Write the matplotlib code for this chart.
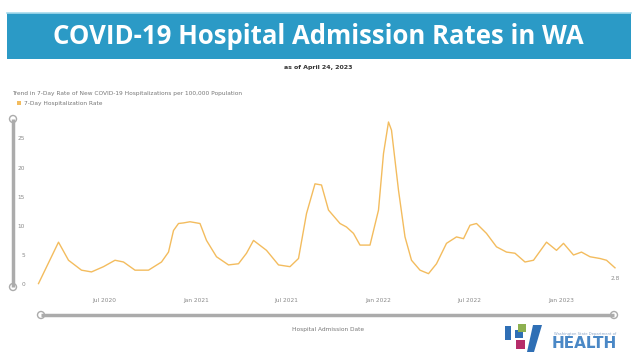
"""COVID-19 hospital admission rates in WA, dashboard-style chart."""
import matplotlib
matplotlib.use("Agg")
import matplotlib.pyplot as plt
import matplotlib.patches as patches
import pandas as pd

# 7-day hospitalization rate per 100k
dates = pd.to_datetime([
    "2020-02-21", "2020-04-01", "2020-04-21", "2020-05-17", "2020-06-06",
    "2020-06-30", "2020-07-23", "2020-08-09", "2020-09-01", "2020-09-28",
    "2020-10-24", "2020-11-07", "2020-11-17", "2020-11-27", "2020-12-07",
    "2020-12-20", "2021-01-09", "2021-01-22", "2021-02-11", "2021-03-07",
    "2021-03-27", "2021-04-12", "2021-04-26", "2021-05-22", "2021-06-15",
    "2021-07-08", "2021-07-25", "2021-08-10", "2021-08-27", "2021-09-09",
    "2021-09-23", "2021-10-16", "2021-10-29", "2021-11-12", "2021-11-25",
    "2021-12-15", "2022-01-01", "2022-01-11", "2022-01-21", "2022-01-27",
    "2022-02-10", "2022-02-23", "2022-03-08", "2022-03-25", "2022-04-11",
    "2022-04-27", "2022-05-17", "2022-06-06", "2022-06-20", "2022-07-03",
    "2022-07-16", "2022-08-05", "2022-08-25", "2022-09-14", "2022-10-01",
    "2022-10-21", "2022-11-07", "2022-12-03", "2022-12-23", "2023-01-06",
    "2023-01-26", "2023-02-11", "2023-02-28", "2023-03-20", "2023-04-02",
    "2023-04-19",
])
rate = [
    0.1, 7.2, 4.1, 2.4, 2.1,
    3.0, 4.1, 3.8, 2.4, 2.4,
    3.8, 5.5, 9.2, 10.4, 10.5,
    10.7, 10.4, 7.5, 4.7, 3.3,
    3.5, 5.3, 7.5, 5.8, 3.3,
    3.0, 4.4, 12.1, 17.2, 17.0,
    12.7, 10.4, 9.8, 8.7, 6.7,
    6.7, 12.7, 22.4, 27.8, 26.4,
    16.1, 8.1, 4.1, 2.4, 1.8,
    3.5, 7.0, 8.1, 7.8, 10.1,
    10.4, 8.7, 6.4, 5.5, 5.3,
    3.8, 4.1, 7.2, 5.8, 7.0,
    5.0, 5.5, 4.7, 4.4, 4.1,
    2.8,
]
yticks = [0, 5, 10, 15, 20, 25]
xtick_dates = pd.to_datetime(["2020-07-01", "2021-01-01", "2021-07-01",
                              "2022-01-01", "2022-07-01", "2023-01-01"])

W, H = 637, 361
LINE = "#F3BC5E"
GREY = "#8A8A8A"
fig = plt.figure(figsize=(W / 100, H / 100), dpi=100)
fig.patch.set_facecolor("white")

# overlay in pixel coordinates for the dashboard decorations
deco = fig.add_axes([0, 0, 1, 1])
deco.set_xlim(0, W)
deco.set_ylim(H, 0)
deco.axis("off")

# banner
deco.add_patch(patches.Rectangle((7, 13), 624, 46, facecolor="#2B9AC6",
                                 edgecolor="none"))
deco.plot([7, 631], [13, 13], color="#A6DAEC", lw=1.2)
deco.text(318, 37, "COVID-19 Hospital Admission Rates in WA", color="white",
          fontsize=18.5, fontweight="bold", family="Open Sans",
          ha="center", va="center")
deco.text(318, 68, "as of April 24, 2023", color="#333333", fontsize=4.5,
          fontweight="bold", ha="center", va="center")
deco.text(12, 93, "Trend in 7-Day Rate of New COVID-19 Hospitalizations "
          "per 100,000 Population", color="#777777", fontsize=4.2,
          ha="left", va="center")
deco.add_patch(patches.Rectangle((17, 101), 4, 4, facecolor=LINE,
                                 edgecolor="none"))
deco.text(24, 103, "7-Day Hospitalization Rate", color="#777777",
          fontsize=4.2, ha="left", va="center")

# range sliders
deco.plot([13, 13], [119, 287], color="#ABABAB", lw=2.5,
          solid_capstyle="butt")
deco.plot([41, 614], [315, 315], color="#ABABAB", lw=2.5,
          solid_capstyle="butt")
for cx, cy in [(13, 119), (13, 287), (41, 315), (614, 315)]:
    deco.add_patch(patches.Circle((cx, cy), 3.5, facecolor="white",
                                  edgecolor="#ABABAB", lw=1))
deco.text(328, 329, "Hospital Admission Date", color="#777777",
          fontsize=4.2, ha="center", va="center")

# DOH logo
deco.add_patch(patches.Rectangle((505, 326), 6, 14, facecolor="#2F6FB5",
                                 edgecolor="none"))
deco.add_patch(patches.Rectangle((515, 330), 8, 8, facecolor="#2F6FB5",
                                 edgecolor="none"))
deco.add_patch(patches.Rectangle((518, 324), 8, 8, facecolor="#8DB050",
                                 edgecolor="none"))
deco.add_patch(patches.Rectangle((516, 340), 9, 9, facecolor="#B52C6A",
                                 edgecolor="none"))
deco.add_patch(patches.Polygon([(533, 325), (542, 325), (534, 352),
                                (527, 352)], facecolor="#2F6FB5",
                               edgecolor="none"))
deco.text(554, 334, "Washington State Department of", color="#8AA5C8",
          fontsize=2.7, ha="left", va="center")
deco.text(552, 344, "HEALTH", color="#4A88C6", fontsize=11,
          fontweight="bold", ha="left", va="center")

# main plot, positioned so Jul 2020 lands at x=104 and Jan 2023 at x=561
left_px, right_px, top_px, bot_px = 36, 620, 115, 290
ax = fig.add_axes([left_px / W, 1 - bot_px / H,
                   (right_px - left_px) / W, (bot_px - top_px) / H])
ax.patch.set_alpha(0)
ref = pd.Timestamp("2020-07-01")
ax.set_xlim(ref - pd.Timedelta(days=136), ref + pd.Timedelta(days=1032))
ax.set_ylim(-1.0, 29.0)

ax.plot(dates, rate, color=LINE, lw=1.0, solid_joinstyle="round")
ax.text(dates[-1], rate[-1] - 1.4, f"{rate[-1]:.1f}", color=GREY,
        fontsize=4.2, ha="center", va="top")

ax.set_yticks(yticks)
ax.set_yticklabels([str(v) for v in yticks])
ax.set_xticks(xtick_dates)
ax.set_xticklabels([d.strftime("%b %Y") for d in xtick_dates])
ax.tick_params(axis="both", length=0, labelsize=4.2, labelcolor=GREY)
ax.tick_params(axis="y", pad=8)
ax.tick_params(axis="x", pad=6)
for s in ax.spines.values():
    s.set_visible(False)

fig.savefig("out.png", dpi=100, facecolor="white")
